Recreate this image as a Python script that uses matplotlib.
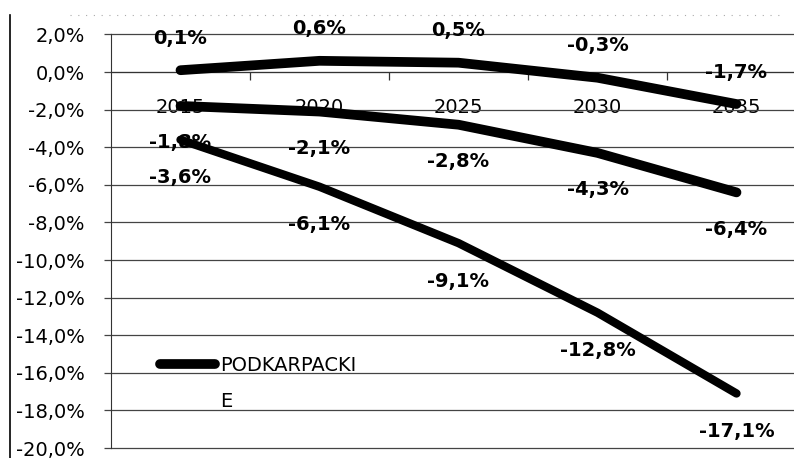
import numpy as np
import matplotlib.pyplot as plt
from matplotlib.lines import Line2D
from matplotlib.ticker import FixedLocator, FuncFormatter

plt.rcParams['font.family'] = ['DejaVu Sans']

years = ['2015', '2020', '2025', '2030', '2035']
top_series = [0.1, 0.6, 0.5, -0.3, -1.7]
mid_series = [-1.8, -2.1, -2.8, -4.3, -6.4]
low_series = [-3.6, -6.1, -9.1, -12.8, -17.1]
legend_label = 'PODKARPACKI'
legend_wrap = 'E'

FS = 14


def pct(v, pos=None):
    return f"{v:.1f}%".replace('.', ',')


fig = plt.figure(figsize=(7.94, 4.58), dpi=100)
ax = fig.add_axes([111 / 794, 1 - 448 / 458, 695 / 794, 413.5 / 458])

x = np.arange(len(years))
ax.set_xlim(-0.5, len(years) - 0.5)
ax.set_ylim(-20, 2)

# grid + axes styling
ax.yaxis.set_major_locator(FixedLocator(np.arange(-20, 2.1, 2)))
ax.yaxis.set_major_formatter(FuncFormatter(pct))
ax.grid(axis='y', color='#444444', lw=0.9)
ax.set_axisbelow(True)
ax.tick_params(axis='y', length=5, width=0.9, color='#444444', pad=14, labelsize=FS)
for gl in ax.get_ygridlines():
    gl.set_clip_on(False)

for s in ['top', 'right']:
    ax.spines[s].set_visible(False)
ax.spines['left'].set_color('#333333')
ax.spines['bottom'].set_position(('data', 0))
ax.spines['bottom'].set_color('#333333')

ax.set_xticks(x[:-1] + 0.5)
ax.set_xticklabels([])
ax.set_xticks(x, minor=True)
ax.set_xticklabels(years, minor=True)
ax.tick_params(axis='x', which='major', length=6, width=0.9, color='#333333')
ax.tick_params(axis='x', which='minor', length=0, pad=19, labelsize=FS)

# lines
l1, = ax.plot(x, top_series, color='black', lw=7, solid_capstyle='round', zorder=3)
ax.plot(x, mid_series, color='black', lw=7, solid_capstyle='round', zorder=3)
ax.plot(x, low_series, color='black', lw=6, solid_capstyle='round', zorder=3)

# data labels
for series, dy in [(top_series, 32), (mid_series, -37), (low_series, -38)]:
    for xi, v in zip(x, series):
        ax.annotate(pct(v), (xi, v), xytext=(0, dy), textcoords='offset pixels',
                    ha='center', va='center', fontsize=FS, fontweight='bold', zorder=4)

ax.legend([l1], [legend_label], loc='center left', bbox_to_anchor=(0.0705, 0.2),
          frameon=False, fontsize=FS, handlelength=2.85, handletextpad=0.25,
          borderpad=0, borderaxespad=0)
ax.text(0.157, 0.1, legend_wrap, transform=ax.transAxes, ha='left', va='baseline', fontsize=FS)

# page border bits from the scan
fig.add_artist(Line2D([10 / 794, 10 / 794], [0, 1 - 15 / 458], transform=fig.transFigure,
                      color='black', lw=1.2))
fig.add_artist(Line2D([70 / 794, 780 / 794], [1 - 15 / 458, 1 - 15 / 458], transform=fig.transFigure,
                      color='#aaaaaa', lw=0.8, ls=(0, (1, 6))))

fig.savefig('out.png', dpi=100)
